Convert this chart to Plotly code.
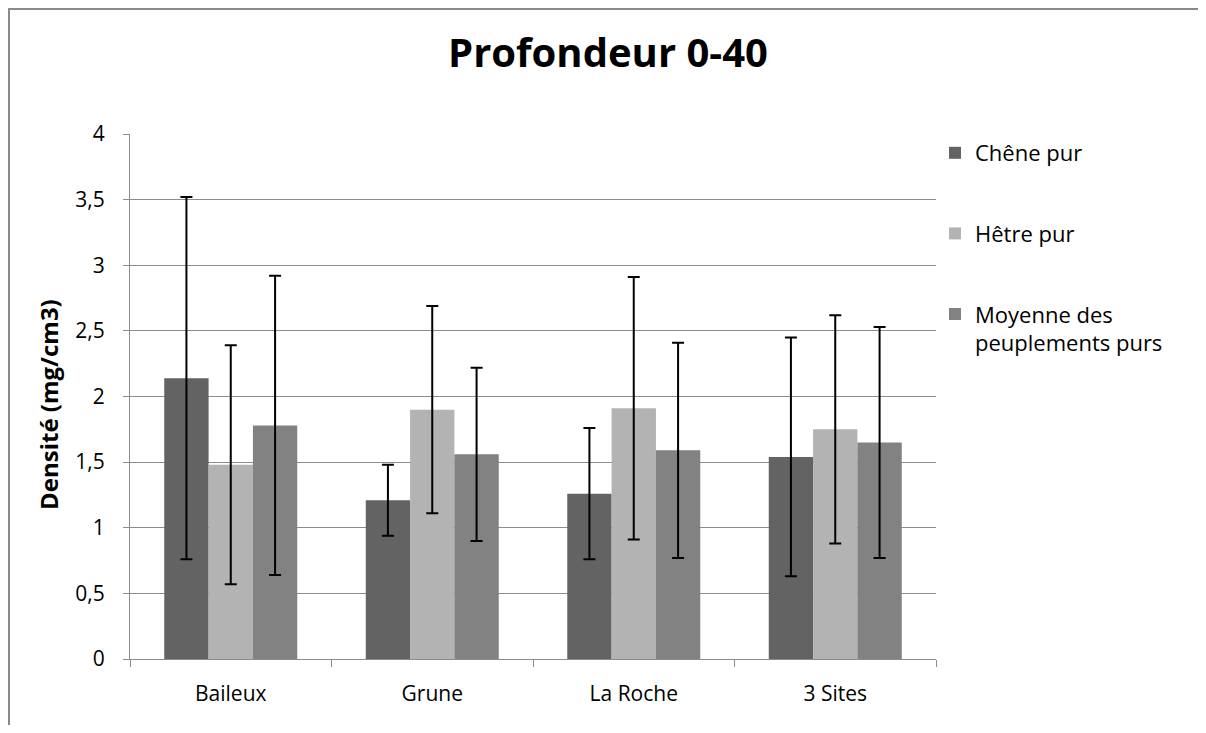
import plotly.graph_objects as go

sites = ["Baileux", "Grune", "La Roche", "3 Sites"]
series_names = ["Chêne pur", "Hêtre pur", "Moyenne des<br>peuplements purs"]
chene = [2.14, 1.21, 1.26, 1.54]
chene_err = [1.38, 0.27, 0.50, 0.91]
hetre = [1.48, 1.90, 1.91, 1.75]
hetre_err = [0.91, 0.79, 1.00, 0.87]
moyenne = [1.78, 1.56, 1.59, 1.65]
moyenne_err = [1.14, 0.66, 0.82, 0.88]
colors = ["#636363", "#b3b3b3", "#828282"]

FONT = "Open Sans"
# the page body adds an 8px margin, so the figure is kept smaller to fit the window
W, H = 1198, 717
L, T = 122, 126
pw, ph = 806, 525
R, B = W - L - pw, H - T - ph

fig = go.Figure()
for i, (name, vals, errs) in enumerate(zip(series_names, [chene, hetre, moyenne],
                                            [chene_err, hetre_err, moyenne_err])):
    fig.add_trace(go.Bar(
        x=sites, y=vals, name=name, legendgroup=f"g{i}",
        marker=dict(color=colors[i], line=dict(width=0)),
        error_y=dict(type="data", array=errs, visible=True, color="black",
                     thickness=2, width=6),
    ))

fig.update_layout(
    width=W, height=H,
    margin=dict(l=L, r=R, t=T, b=B),
    paper_bgcolor="white", plot_bgcolor="white",
    separators=", ",
    barmode="group", bargap=0.34, bargroupgap=0,
    font=dict(family=FONT, color="black", size=21),
    title=dict(text="<b>Profondeur 0-40</b>", x=600 / W, xref="container",
               xanchor="center", y=1 - 45 / H, yref="container", yanchor="middle",
               font=dict(family=FONT, size=40, color="black")),
    legend=dict(x=(927 - L) / pw, xanchor="left", y=(T + ph - 124) / ph, yanchor="top",
                font=dict(family=FONT, size=22, color="black"),
                tracegroupgap=49, valign="top", bgcolor="rgba(0,0,0,0)",
                itemwidth=30),
    xaxis=dict(showline=True, linecolor="#8c8c8c", linewidth=1,
               ticks="outside", tickson="boundaries", ticklen=7, tickcolor="#8c8c8c",
               ticklabelstandoff=16,
               tickfont=dict(family=FONT, size=21), showgrid=False),
    yaxis=dict(range=[0, 4], dtick=0.5, tick0=0, showline=True, linecolor="#8c8c8c",
               linewidth=1, ticks="outside", ticklen=6, tickcolor="#8c8c8c",
               ticklabelstandoff=14,
               showgrid=True, gridcolor="#8c8c8c", gridwidth=1,
               zeroline=False,
               tickfont=dict(family=FONT, size=21)),
)

# y-axis title placed like the original (slightly below plot centre)
fig.add_annotation(text="<b>Densité (mg/cm3)</b>", textangle=-90,
                   xref="paper", yref="paper",
                   x=(40 - L) / pw, y=(T + ph - 397) / ph,
                   xanchor="center", yanchor="middle", showarrow=False,
                   font=dict(family=FONT, size=24, color="black"))

# outer chart border (left and top edges visible in the original)
fig.add_shape(type="line", xref="paper", yref="paper",
              x0=(1 - L) / pw, x1=(1 - L) / pw, y0=-1.0, y1=(T + ph) / ph,
              line=dict(color="#8a8a8a", width=2), layer="below")
fig.add_shape(type="line", xref="paper", yref="paper",
              x0=(0 - L) / pw, x1=2.0, y0=(T + ph - 1) / ph, y1=(T + ph - 1) / ph,
              line=dict(color="#8a8a8a", width=2), layer="below")

fig.write_html("out.html")
